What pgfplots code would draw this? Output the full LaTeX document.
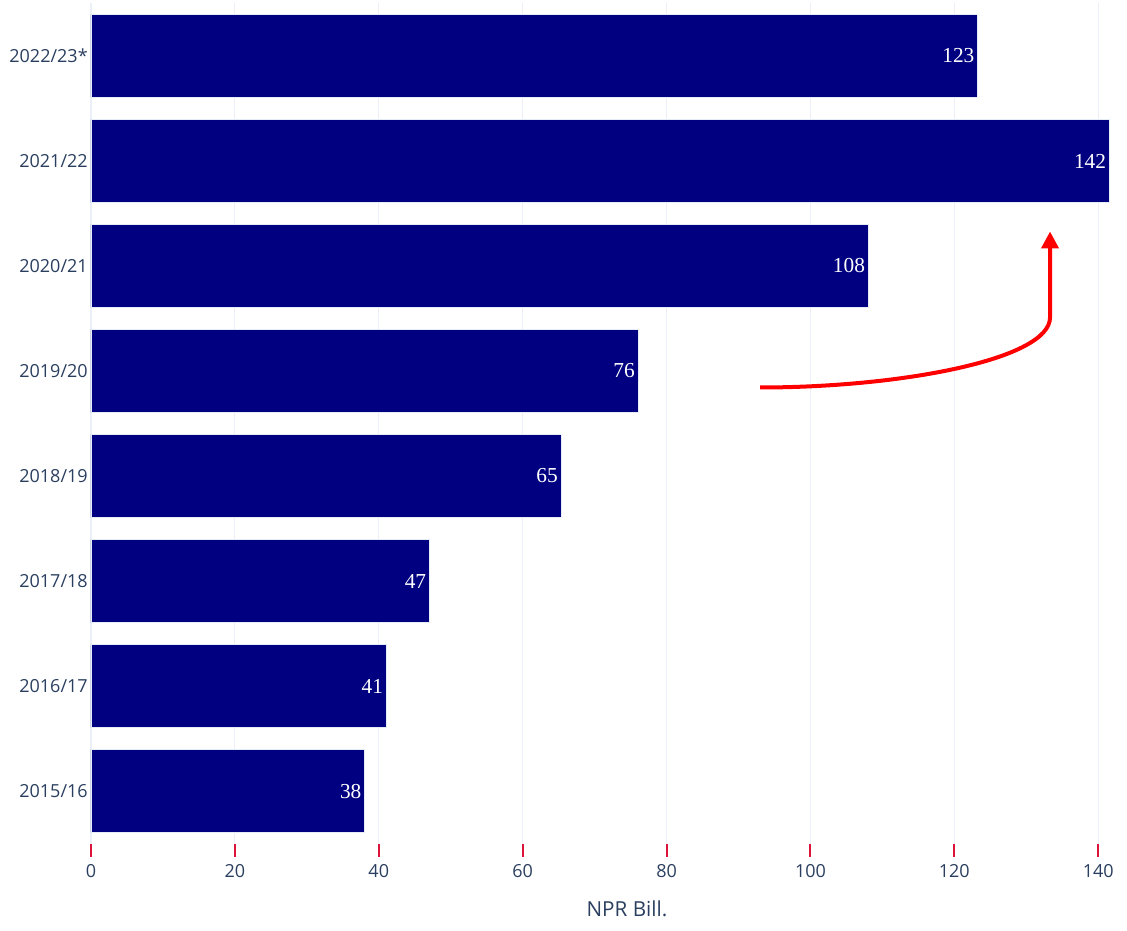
\documentclass[border=0pt]{standalone}
\usepackage{pgfplots}
\pgfplotsset{compat=1.18}
\usepackage{pgfplotstable}
\usetikzlibrary{arrows.meta}
\usepackage{fontspec}
\setmainfont{Liberation Serif}
\newfontfamily\opensans{Open Sans}
\definecolor{barc}{HTML}{000080}
\definecolor{edgec}{HTML}{E5ECF6}
\definecolor{gridc}{HTML}{EBF0F8}
\definecolor{txtc}{HTML}{2A3F5F}
\definecolor{tickc}{HTML}{DC143C}
\pgfplotstableread{
y val lab
0 38 38
1 41 41
2 47 47
3 65.3 65
4 76 76
5 108 108
6 141.5 142
7 123.2 123
}\datatab
\begin{document}
\begin{tikzpicture}
\begin{axis}[
  scale only axis,
  width=777pt, height=630pt,
  xmin=0, xmax=144, ymin=-0.5, ymax=7.5,
  enlargelimits=false,
  axis x line*=bottom, axis y line*=left,
  axis line style={draw=none},
  xbar, bar width=62.25pt,
  xtick={0,20,...,140},
  ytick={0,...,7},
  yticklabels={2015/16,2016/17,2017/18,2018/19,2019/20,2020/21,2021/22,2022/23*},
  tick align=outside,
  major tick length=9.75pt,
  xtick style={draw=tickc, line width=1.5pt},
  ytick style={draw=none},
  xmajorgrids,
  grid style={draw=gridc, line width=0.9pt},
  /pgf/number format/assume math mode=true,
  ticklabel style={font=\opensans\fontsize{13.5}{16}\selectfont, text=txtc},
  xticklabel style={inner sep=0pt, anchor=north, yshift=-5.5pt},
  yticklabel style={inner sep=0pt, anchor=east, xshift=7.5pt},
  xlabel={NPR Bill.},
  xlabel style={at={(axis description cs:0.5174,-0.078)}, anchor=center, font=\opensans\fontsize{15.5}{18}\selectfont, text=txtc},
  point meta=explicit symbolic,
  nodes near coords={\pgfplotspointmeta},
  nodes near coords style={anchor=east, xshift=1.25pt, font=\fontsize{16}{18}\selectfont, text=white},
  clip=false,
]
\addplot[fill=barc, draw=edgec, line width=0.375pt] table[x=val, y=y, meta=lab] {\datatab};
\draw[red, line width=3pt, -{Triangle[length=12.75pt,width=12.75pt]}]
  (axis cs:93.0,3.843) .. controls (axis cs:112.5,3.843) and (axis cs:133.3,4.110) .. (axis cs:133.3,4.510) -- (axis cs:133.3,5.329);
\coordinate (bbl) at (rel axis cs:-0.0878,-0.103);
\coordinate (btr) at (rel axis cs:1,1.00417);
\end{axis}
\pgfresetboundingbox
\useasboundingbox (bbl) rectangle (btr);
\end{tikzpicture}
\end{document}
